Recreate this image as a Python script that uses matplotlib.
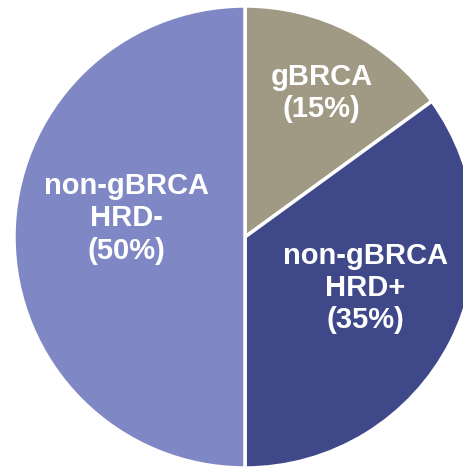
import numpy as np
import matplotlib.pyplot as plt

# slice data (clockwise from 12 o'clock)
labels = ['gBRCA\n(15%)', 'non-gBRCA\nHRD+\n(35%)', 'non-gBRCA\nHRD-\n(50%)']
shares = [15, 35, 50]
colors = ['#A09A84', '#3F4889', '#7F88C4']
# where to put each label inside its wedge (radius, angle nudge in deg)
label_r = [0.705, 0.565, 0.52]
label_nudge = [-1, 4, -9]

plt.rcParams['font.family'] = ['Liberation Sans', 'DejaVu Sans']

fig = plt.figure(figsize=(4.63, 4.68), dpi=100)
ax = fig.add_axes([0, 0, 1, 1])

wedges, _ = ax.pie(shares, colors=colors, startangle=90, counterclock=False,
                   radius=1.0, wedgeprops=dict(edgecolor='white', linewidth=2.5))

for w, lab, r, nudge in zip(wedges, labels, label_r, label_nudge):
    mid = np.deg2rad((w.theta1 + w.theta2) / 2 + nudge)
    ax.text(r * np.cos(mid), r * np.sin(mid), lab, ha='center', va='center',
            color='white', fontsize=21, fontweight='bold', linespacing=1.2)

ax.set_aspect('auto')
ax.set_xlim(-1.0606, 0.9437)
ax.set_ylim(-1.0, 1.026)
ax.axis('off')

fig.savefig('out.png', dpi=100)
